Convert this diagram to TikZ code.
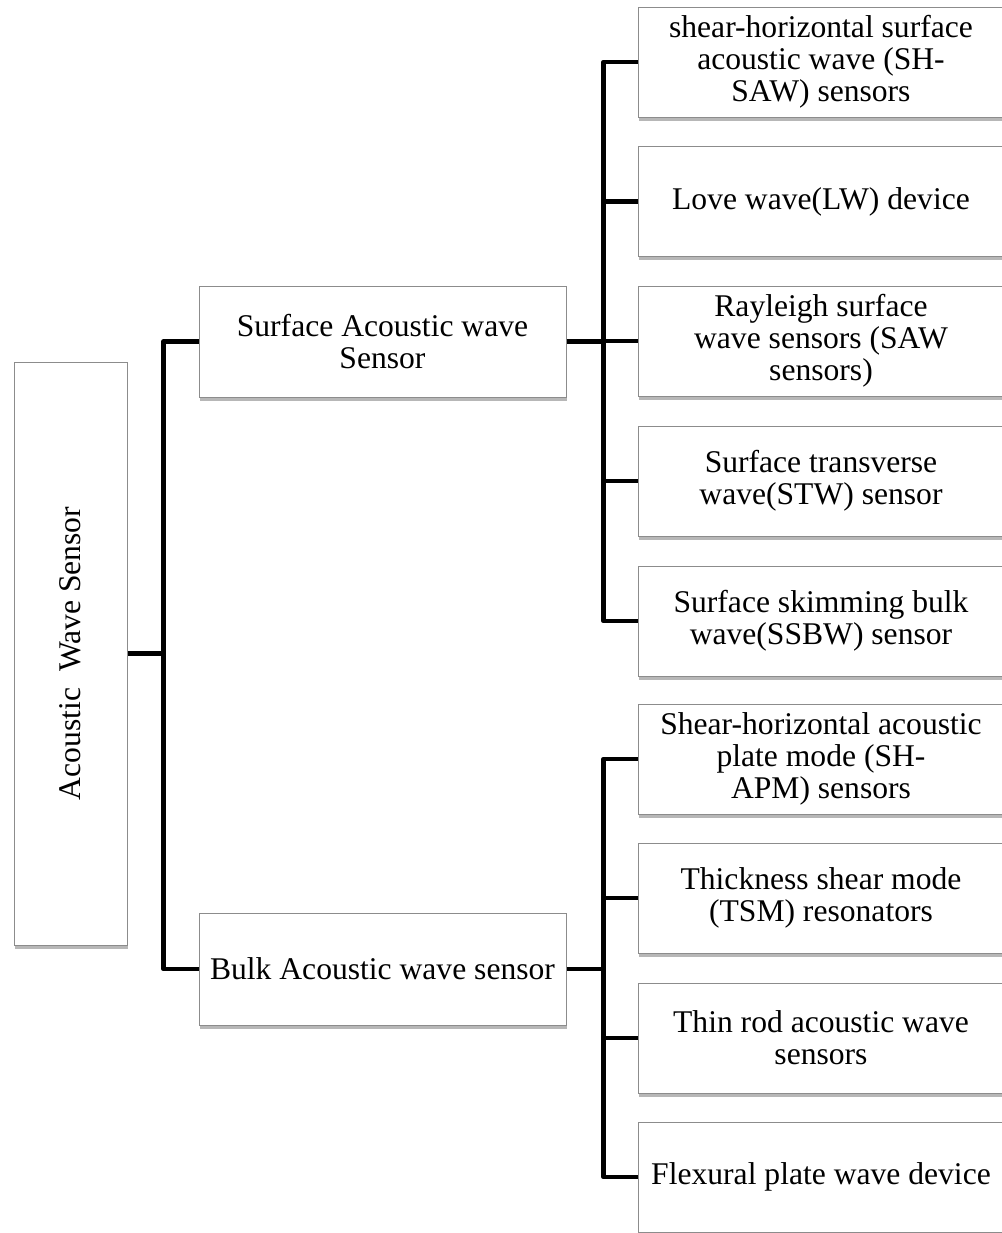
\documentclass[tikz,border=0pt]{standalone}
\usepackage{fontspec}
\setmainfont{Liberation Serif}
\usetikzlibrary{shadows}
\tikzset{
  every picture/.style={x=0.5pt, y=-0.5pt},
  box/.style={draw=black!45, line width=0.5pt, fill=white, align=center, inner sep=0pt,
    font=\fontsize{15.8pt}{15.9pt}\selectfont,
    drop shadow={shadow xshift=0.6pt, shadow yshift=-1.8pt, opacity=0.4, fill=black!70}},
  leaf/.style={box, minimum width=183pt, minimum height=55pt},
  link/.style={line width=2.3pt, line join=round},
}

\begin{document}
\begin{tikzpicture}
  \useasboundingbox (0,0) rectangle (1002,1233);
  \node[box, minimum width=56.5pt, minimum height=291.5pt] (root) at (70.5,653.5) {\rotatebox{90}{Acoustic\ \ Wave Sensor}};
  \node[box, minimum width=183.5pt, minimum height=55.5pt] (saw) at (382.5,341.5) {Surface Acoustic wave\\Sensor};
  \node[box, minimum width=183.5pt, minimum height=56pt] (baw) at (382.5,969) {Bulk Acoustic wave sensor};
  % surface acoustic wave sensors
  \foreach \y/\t [count=\i] in {
      62/{shear-horizontal surface\\acoustic wave (SH-\\SAW) sensors},
      201.5/{Love wave(LW) device},
      341/{Rayleigh surface\\wave sensors (SAW\\sensors)},
      481/{Surface transverse\\wave(STW) sensor},
      621/{Surface skimming bulk\\wave(SSBW) sensor}}
    \node[leaf] (s\i) at (821,\y) {\t};
  % bulk acoustic wave sensors
  \foreach \y/\t [count=\i] in {
      759/{Shear-horizontal acoustic\\plate mode (SH-\\APM) sensors},
      898/{Thickness shear mode\\(TSM) resonators},
      1038/{Thin rod acoustic wave\\sensors},
      1177/{Flexural plate wave device}}
    \node[leaf] (b\i) at (821,\y) {\t};
  % connectors
  \draw[link] (root.east) -- ++(36,0) coordinate (rj);
  \draw[link] (saw.west) -| (rj) |- (baw.west);
  \draw[link] (saw.east) -- ++(37,0) coordinate (sj);
  \foreach \i in {1,...,5} \draw[link] (sj) |- (s\i.west);
  \draw[link] (baw.east) -- ++(37,0) coordinate (bj);
  \foreach \i in {1,...,4} \draw[link] (bj) |- (b\i.west);
\end{tikzpicture}
\end{document}
